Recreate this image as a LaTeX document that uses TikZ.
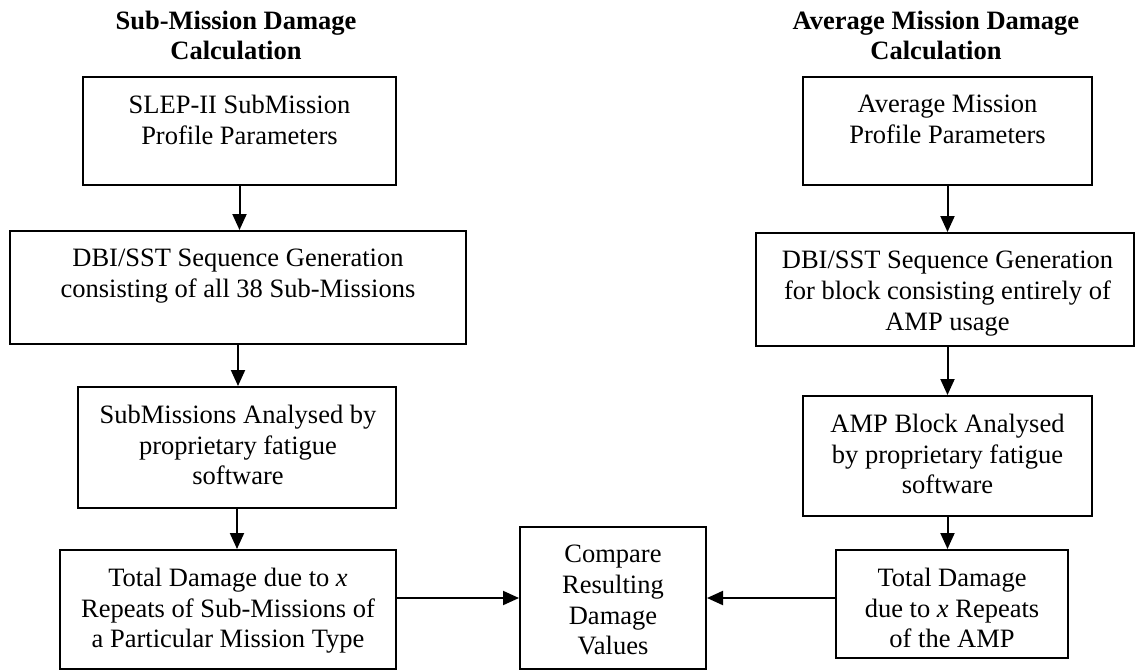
\documentclass[tikz,border=0pt]{standalone}
\usepackage{fontspec}
\setmainfont{Liberation Serif}
\usetikzlibrary{arrows.meta,fit}
\begin{document}
\begin{tikzpicture}[x=0.5pt,y=-0.5pt,
  box/.style={draw, line width=1pt, inner sep=0pt},
  txt/.style={anchor=north, inner sep=0pt, align=center, font=\fontsize{13.25pt}{15.3pt}\selectfont},
  ttl/.style={anchor=north, inner sep=0pt, align=center, font=\bfseries\fontsize{13.25pt}{15pt}\selectfont},
  arr/.style={line width=1pt, -{Triangle[length=8pt,width=7pt]}}]
\useasboundingbox (0,0) rectangle (1135,670);

% titles
\node[ttl] (tl) at (236,11) {Sub-Mission Damage\\Calculation};
\node[ttl] (tr) at (936,11) {Average Mission Damage\\Calculation};

% left column boxes
\node[box, fit={(83,77) (396,185)}] (L1) {};
\node[box, fit={(10,231) (466,344)}] (L2) {};
\node[box, fit={(78,387) (396,508)}] (L3) {};
\node[box, fit={(60,550) (396,669)}] (L4) {};
% compare box
\node[box, fit={(520,527) (706,669)}] (C) {};
% right column boxes
\node[box, fit={(803,77) (1092,185)}] (R1) {};
\node[box, fit={(756,233) (1134,346)}] (R2) {};
\node[box, fit={(803,396) (1092,516)}] (R3) {};
\node[box, fit={(836,550) (1068,658)}] (R4) {};

% texts
\node[txt] (L1t) at (239.5,95) {SLEP-II SubMission\\Profile Parameters};
\node[txt] (L2t) at (238,249) {DBI/SST Sequence Generation\\consisting of all 38 Sub-Missions};
\node[txt] (L3t) at (238,405) {SubMissions Analysed by\\proprietary fatigue\\software};
\node[txt] (L4t) at (228,568) {Total Damage due to \textit{x}\\Repeats of Sub-Missions of\\a Particular Mission Type};
\node[txt] (Ct) at (613,545) {Compare\\Resulting\\Damage\\Values};
\node[txt] (R1t) at (947.5,95) {Average Mission\\Profile Parameters};
\node[txt] (R2t) at (947.5,251) {DBI/SST Sequence Generation\\for block consisting entirely of\\AMP usage};
\node[txt] (R3t) at (947.5,414) {AMP Block Analysed\\by proprietary fatigue\\software};
\node[txt] (R4t) at (952,568) {Total Damage\\due to \textit{x} Repeats\\of the AMP};

% connectors
\draw[arr] (L1.south) -- (L1.south |- L2.north);
\draw[arr] (L2.south) -- (L2.south |- L3.north);
\draw[arr] (L3.south) -- (L3.south |- L4.north);
\draw[arr] (R1.south) -- (R1.south |- R2.north);
\draw[arr] (R1.south |- R2.south) -- (R1.south |- R3.north);
\draw[arr] (R3.south) -- (R3.south |- R4.north);
\draw[arr] (C.west -| L4.east) -- (C.west);
\draw[arr] (C.east -| R4.west) -- (C.east);
\end{tikzpicture}
\end{document}
